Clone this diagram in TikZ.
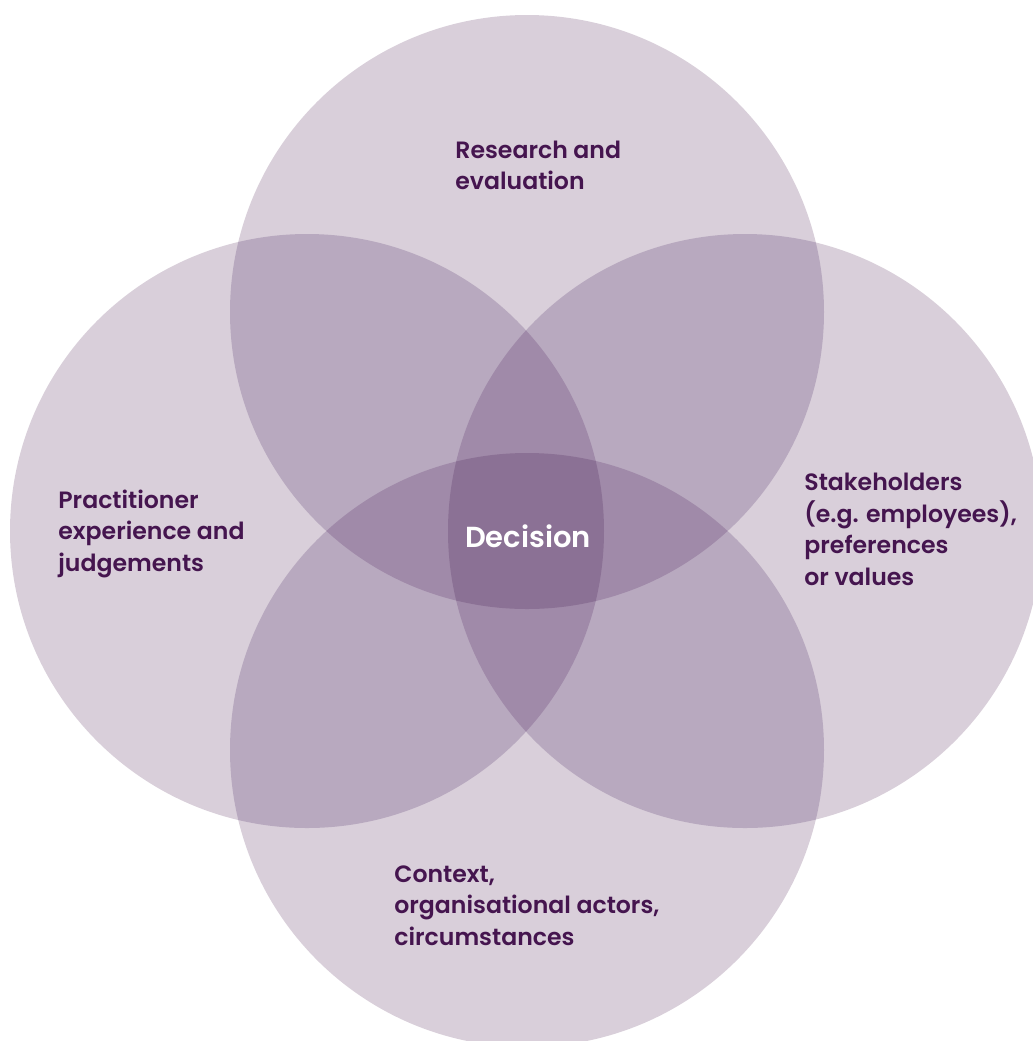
\documentclass[tikz,border=0pt]{standalone}
\usepackage{fontspec}
\setmainfont{Poppins SemiBold}
\usetikzlibrary{positioning}

\definecolor{one}{HTML}{D9CFDA}
\definecolor{two}{HTML}{B8A9BF}
\definecolor{three}{HTML}{A08AA9}
\definecolor{four}{HTML}{8B7195}
\definecolor{ink}{HTML}{45154F}

\newcommand\lobe[1]{(#1) circle[radius=148.5pt]}

\begin{document}
\begin{tikzpicture}[x=0.5pt,y=-0.5pt,
  label/.style={anchor=base west,align=left,inner sep=0pt,text=ink,
    font=\fontsize{11.8}{15.75}\selectfont}]
  \useasboundingbox (0,0) rectangle (1033,1041);
  \coordinate (t) at (527,312);
  \coordinate (l) at (307,531);
  \coordinate (r) at (745,531);
  \coordinate (b) at (527,750);
  % single circles
  \foreach \c in {t,l,r,b} \fill[one] \lobe{\c};
  % overlaps of two
  \foreach \p/\q in {t/l,t/r,b/l,b/r,t/b,l/r}
    {\begin{scope}\clip \lobe{\p}; \fill[two] \lobe{\q};\end{scope}}
  % overlaps of three
  \foreach \p/\q/\s in {t/l/r,t/l/b,t/r/b,l/r/b}
    {\begin{scope}\clip \lobe{\p}; \clip \lobe{\q}; \fill[three] \lobe{\s};\end{scope}}
  % all four
  \begin{scope}
    \clip \lobe{t}; \clip \lobe{l}; \clip \lobe{r}; \fill[four] \lobe{b};
  \end{scope}
  % labels (base = last line)
  \node[label] (research) at (455,189.5) {Research and\\evaluation};
  \node[label] (practice) at (58,571) {Practitioner\\experience and\\judgements};
  \node[label] (stake) at (804,585) {Stakeholders\\(e.g. employees),\\preferences\\or values};
  \node[label] (context) at (394,945) {Context,\\organisational actors,\\circumstances};
  \node[text=white,font=\fontsize{14.5}{18}\selectfont] (decision) at (528,536) {Decision};
\end{tikzpicture}
\end{document}
